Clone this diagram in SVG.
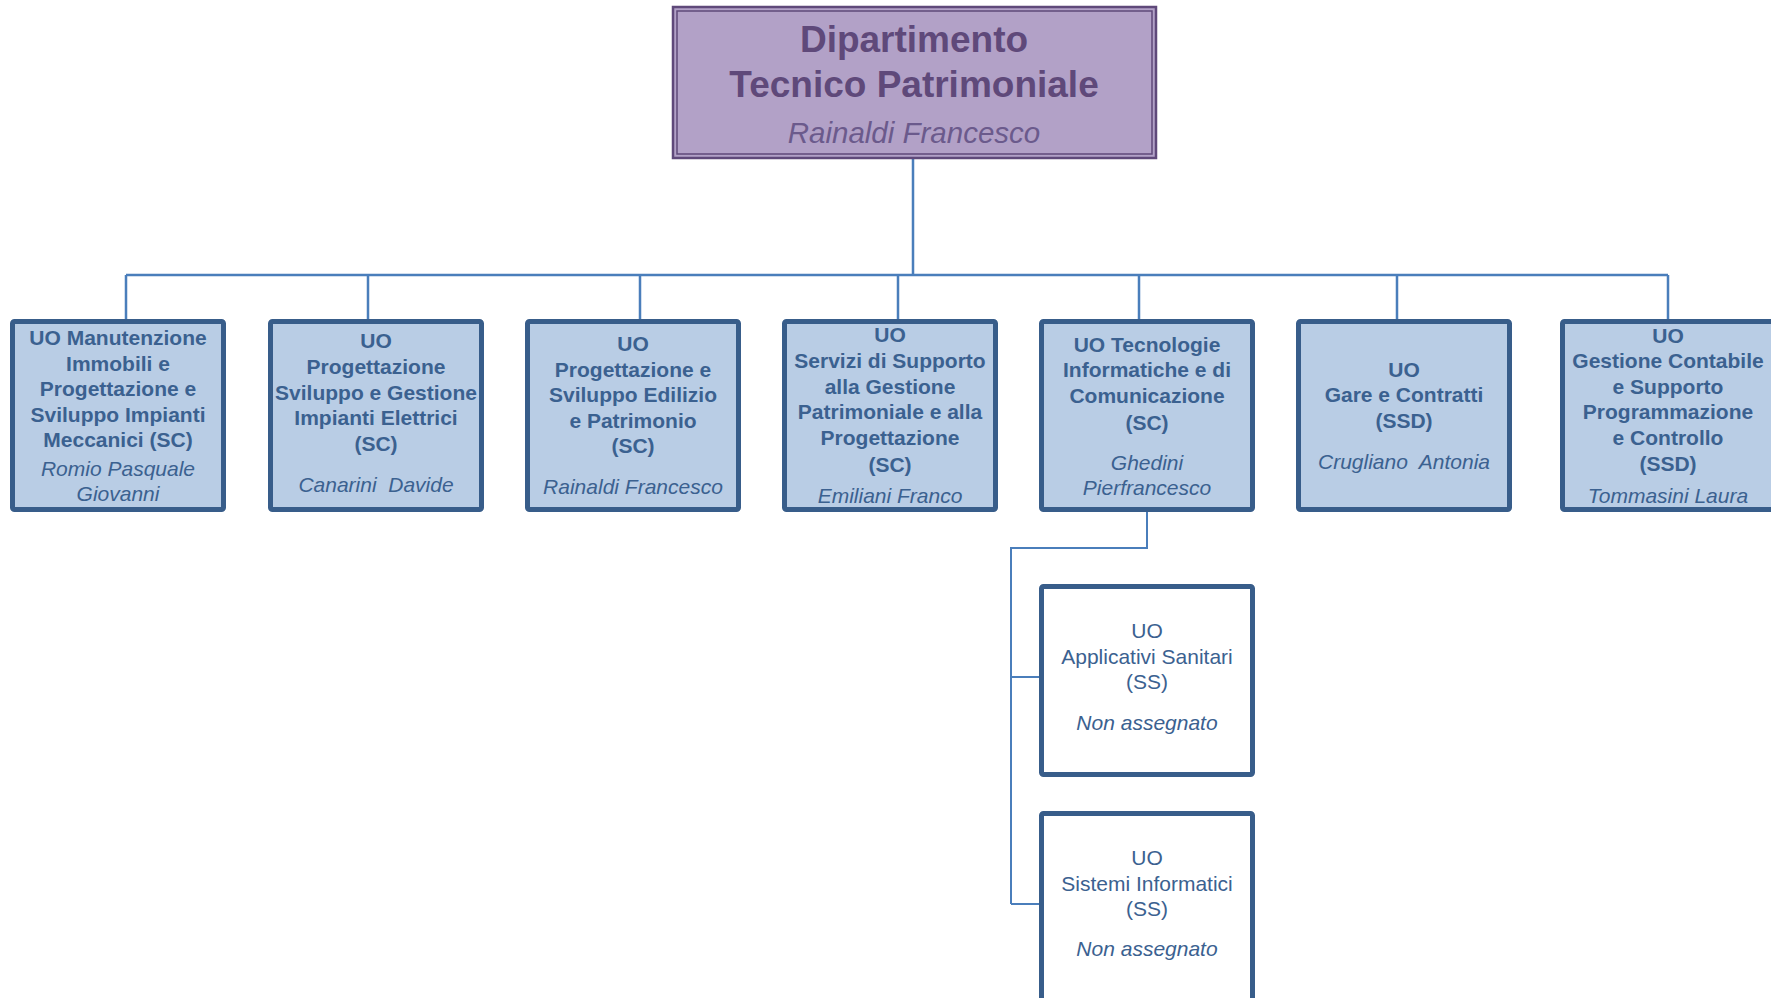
<svg xmlns="http://www.w3.org/2000/svg" width="1771" height="998" viewBox="0 0 1771 998">
<style>
  .bg{fill:#ffffff}
  .conn{stroke:#4a7ebb;stroke-width:2.5;fill:none}
  .conn2{stroke:#4a7ebb;stroke-width:2;fill:none}
  .box{fill:#b9cde5;stroke:#385d8a;stroke-width:5}
  .wbox{fill:#ffffff;stroke:#385d8a;stroke-width:5}
  .t{font-family:"Liberation Sans",Arial,sans-serif;font-size:21px;font-weight:bold;fill:#3b6190;text-anchor:middle}
  .n{font-family:"Liberation Sans",Arial,sans-serif;font-size:21px;font-style:italic;fill:#3b6190;text-anchor:middle;white-space:pre}
  .r{font-family:"Liberation Sans",Arial,sans-serif;font-size:21px;fill:#3b6190;text-anchor:middle}
  .top{fill:#b2a1c7}
  .topo{fill:none;stroke:#5f497a;stroke-width:2.5}
  .topi{fill:none;stroke:#5f497a;stroke-width:1.5}
  .tt{font-family:"Liberation Sans",Arial,sans-serif;font-size:37px;font-weight:bold;fill:#5f497a;text-anchor:middle}
  .tn{font-family:"Liberation Sans",Arial,sans-serif;font-size:29.5px;font-style:italic;fill:#6b5a8c;text-anchor:middle}
</style>
<rect class="bg" x="0" y="0" width="1771" height="998"/>

<g id="connectors">
  <path class="conn" d="M913 158 V275 M126 275 H1668 M126 275 V319 M368 275 V319 M640 275 V319 M898 275 V319 M1139 275 V319 M1397 275 V319 M1668 275 V319"/>
  <path class="conn2" d="M1147 512 V548 H1011 V904 M1011 677 H1039 M1011 904 H1039"/>
</g>

<g id="dipartimento">
  <rect class="top" x="673" y="7" width="483" height="151"/>
  <rect class="topo" x="673" y="7" width="483" height="151"/>
  <rect class="topi" x="677" y="11" width="475" height="143"/>
  <text class="tt" x="914" y="52">Dipartimento</text>
  <text class="tt" x="914" y="97">Tecnico Patrimoniale</text>
  <text class="tn" x="914" y="143">Rainaldi Francesco</text>
</g>

<g id="uo-manutenzione">
  <rect class="box" x="12.5" y="321.5" width="211" height="188" rx="2"/>
  <text class="t" x="118" y="345">UO Manutenzione</text>
  <text class="t" x="118" y="370.5">Immobili e</text>
  <text class="t" x="118" y="396">Progettazione e</text>
  <text class="t" x="118" y="421.5">Sviluppo Impianti</text>
  <text class="t" x="118" y="447">Meccanici (SC)</text>
  <text class="n" x="118" y="476">Romio Pasquale</text>
  <text class="n" x="118" y="501">Giovanni</text>
</g>

<g id="uo-impianti-elettrici">
  <rect class="box" x="270.5" y="321.5" width="211" height="188" rx="2"/>
  <text class="t" x="376" y="348">UO</text>
  <text class="t" x="376" y="374">Progettazione</text>
  <text class="t" x="376" y="399.5">Sviluppo e Gestione</text>
  <text class="t" x="376" y="425">Impianti Elettrici</text>
  <text class="t" x="376" y="451">(SC)</text>
  <text class="n" x="376" y="492">Canarini  Davide</text>
</g>

<g id="uo-edilizio">
  <rect class="box" x="527.5" y="321.5" width="211" height="188" rx="2"/>
  <text class="t" x="633" y="351">UO</text>
  <text class="t" x="633" y="377">Progettazione e</text>
  <text class="t" x="633" y="402">Sviluppo Edilizio</text>
  <text class="t" x="633" y="427.5">e Patrimonio</text>
  <text class="t" x="633" y="453">(SC)</text>
  <text class="n" x="633" y="494">Rainaldi Francesco</text>
</g>

<g id="uo-servizi-supporto">
  <rect class="box" x="784.5" y="321.5" width="211" height="188" rx="2"/>
  <text class="t" x="890" y="342">UO</text>
  <text class="t" x="890" y="368">Servizi di Supporto</text>
  <text class="t" x="890" y="393.5">alla Gestione</text>
  <text class="t" x="890" y="419">Patrimoniale e alla</text>
  <text class="t" x="890" y="445">Progettazione</text>
  <text class="t" x="890" y="472">(SC)</text>
  <text class="n" x="890" y="502.5">Emiliani Franco</text>
</g>

<g id="uo-tecnologie">
  <rect class="box" x="1041.5" y="321.5" width="211" height="188" rx="2"/>
  <text class="t" x="1147" y="352">UO Tecnologie</text>
  <text class="t" x="1147" y="377">Informatiche e di</text>
  <text class="t" x="1147" y="402.5">Comunicazione</text>
  <text class="t" x="1147" y="430">(SC)</text>
  <text class="n" x="1147" y="470">Ghedini</text>
  <text class="n" x="1147" y="495">Pierfrancesco</text>
</g>

<g id="uo-gare-contratti">
  <rect class="box" x="1298.5" y="321.5" width="211" height="188" rx="2"/>
  <text class="t" x="1404" y="376.5">UO</text>
  <text class="t" x="1404" y="401.5">Gare e Contratti</text>
  <text class="t" x="1404" y="428">(SSD)</text>
  <text class="n" x="1404" y="469">Crugliano  Antonia</text>
</g>

<g id="uo-gestione-contabile">
  <rect class="box" x="1562.5" y="321.5" width="211" height="188" rx="2"/>
  <text class="t" x="1668" y="343">UO</text>
  <text class="t" x="1668" y="368">Gestione Contabile</text>
  <text class="t" x="1668" y="393.5">e Supporto</text>
  <text class="t" x="1668" y="419">Programmazione</text>
  <text class="t" x="1668" y="444.5">e Controllo</text>
  <text class="t" x="1668" y="471">(SSD)</text>
  <text class="n" x="1668" y="502.5">Tommasini Laura</text>
</g>

<g id="uo-applicativi-sanitari">
  <rect class="wbox" x="1041.5" y="586.5" width="211" height="188" rx="2"/>
  <text class="r" x="1147" y="638">UO</text>
  <text class="r" x="1147" y="664">Applicativi Sanitari</text>
  <text class="r" x="1147" y="689">(SS)</text>
  <text class="n" x="1147" y="730">Non assegnato</text>
</g>

<g id="uo-sistemi-informatici">
  <rect class="wbox" x="1041.5" y="813.5" width="211" height="200" rx="2"/>
  <text class="r" x="1147" y="865">UO</text>
  <text class="r" x="1147" y="891">Sistemi Informatici</text>
  <text class="r" x="1147" y="916">(SS)</text>
  <text class="n" x="1147" y="956">Non assegnato</text>
</g>
</svg>
